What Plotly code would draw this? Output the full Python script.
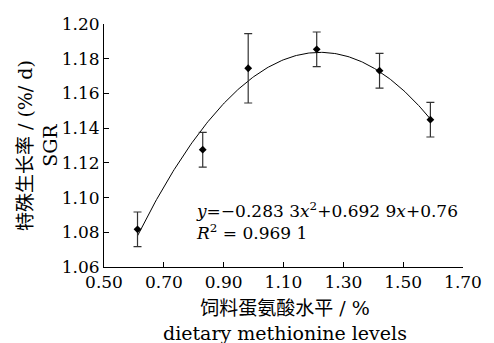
import plotly.graph_objects as go
import numpy as np

# data
met_levels = [0.612, 0.830, 0.982, 1.211, 1.421, 1.591]
sgr = [1.0817, 1.1276, 1.1745, 1.1854, 1.1731, 1.1449]
sgr_err = [0.010, 0.010, 0.020, 0.010, 0.010, 0.010]
fit_coef = [-0.2833, 0.6929, 0.76]  # a, b, c of y = a x^2 + b x + c
x_ticks = [0.50, 0.70, 0.90, 1.10, 1.30, 1.50, 1.70]
y_ticks = [1.06, 1.08, 1.10, 1.12, 1.14, 1.16, 1.18, 1.20]

serif = "DejaVu Serif, Liberation Serif, Noto Sans CJK SC, serif"

xf = np.linspace(min(met_levels), max(met_levels), 200)
yf = fit_coef[0] * xf**2 + fit_coef[1] * xf + fit_coef[2]

fig = go.Figure()
fig.add_trace(go.Scatter(x=xf, y=yf, mode="lines",
                         line=dict(color="black", width=1), hoverinfo="skip"))
fig.add_trace(go.Scatter(x=met_levels, y=sgr, mode="markers",
                         marker=dict(symbol="diamond", size=6, color="black"),
                         error_y=dict(type="data", array=sgr_err, visible=True,
                                      color="#333333", thickness=1.2, width=4)))

fig.update_layout(
    width=494, height=343,
    margin=dict(l=104, r=18, t=24, b=76),
    paper_bgcolor="white", plot_bgcolor="white",
    showlegend=False,
    font=dict(family=serif, size=17, color="black"),
    xaxis=dict(range=[0.5, 1.70001], tickvals=x_ticks,
               ticktext=[f"{v:.2f}" for v in x_ticks],
               ticks="inside", ticklen=5, tickcolor="black", tickwidth=1,
               showline=True, linecolor="black", linewidth=1,
               showgrid=False, zeroline=False, ticklabeloverflow="allow",
               tickfont=dict(family=serif, size=17)),
    yaxis=dict(range=[1.06, 1.20001], tickvals=y_ticks,
               ticktext=[f"{v:.2f}" for v in y_ticks],
               ticks="inside", ticklen=5, tickcolor="black", tickwidth=1,
               showline=True, linecolor="black", linewidth=1,
               showgrid=False, zeroline=False,
               tickfont=dict(family=serif, size=17)),
)

fig.add_annotation(xref="paper", yref="paper", x=-0.185, y=0.5,
                   text="特殊生长率 / (%/ d)<br>SGR", textangle=-90,
                   showarrow=False, xanchor="center", yanchor="middle",
                   font=dict(family=serif, size=19))
fig.add_annotation(xref="paper", yref="paper", x=0.505, y=-0.219,
                   text="饲料蛋氨酸水平 / %<br>dietary methionine levels",
                   showarrow=False, xanchor="center", yanchor="middle",
                   font=dict(family=serif, size=19))
fig.add_annotation(xref="x", yref="y", x=0.80, y=1.0865,
                   text="<i>y</i>=−0.283 3<i>x</i><sup>2</sup>+0.692 9<i>x</i>+0.76<br><i>R</i><sup>2</sup> = 0.969 1",
                   showarrow=False, xanchor="left", yanchor="middle", align="left",
                   font=dict(family=serif, size=17))

fig.write_html("out.html")
